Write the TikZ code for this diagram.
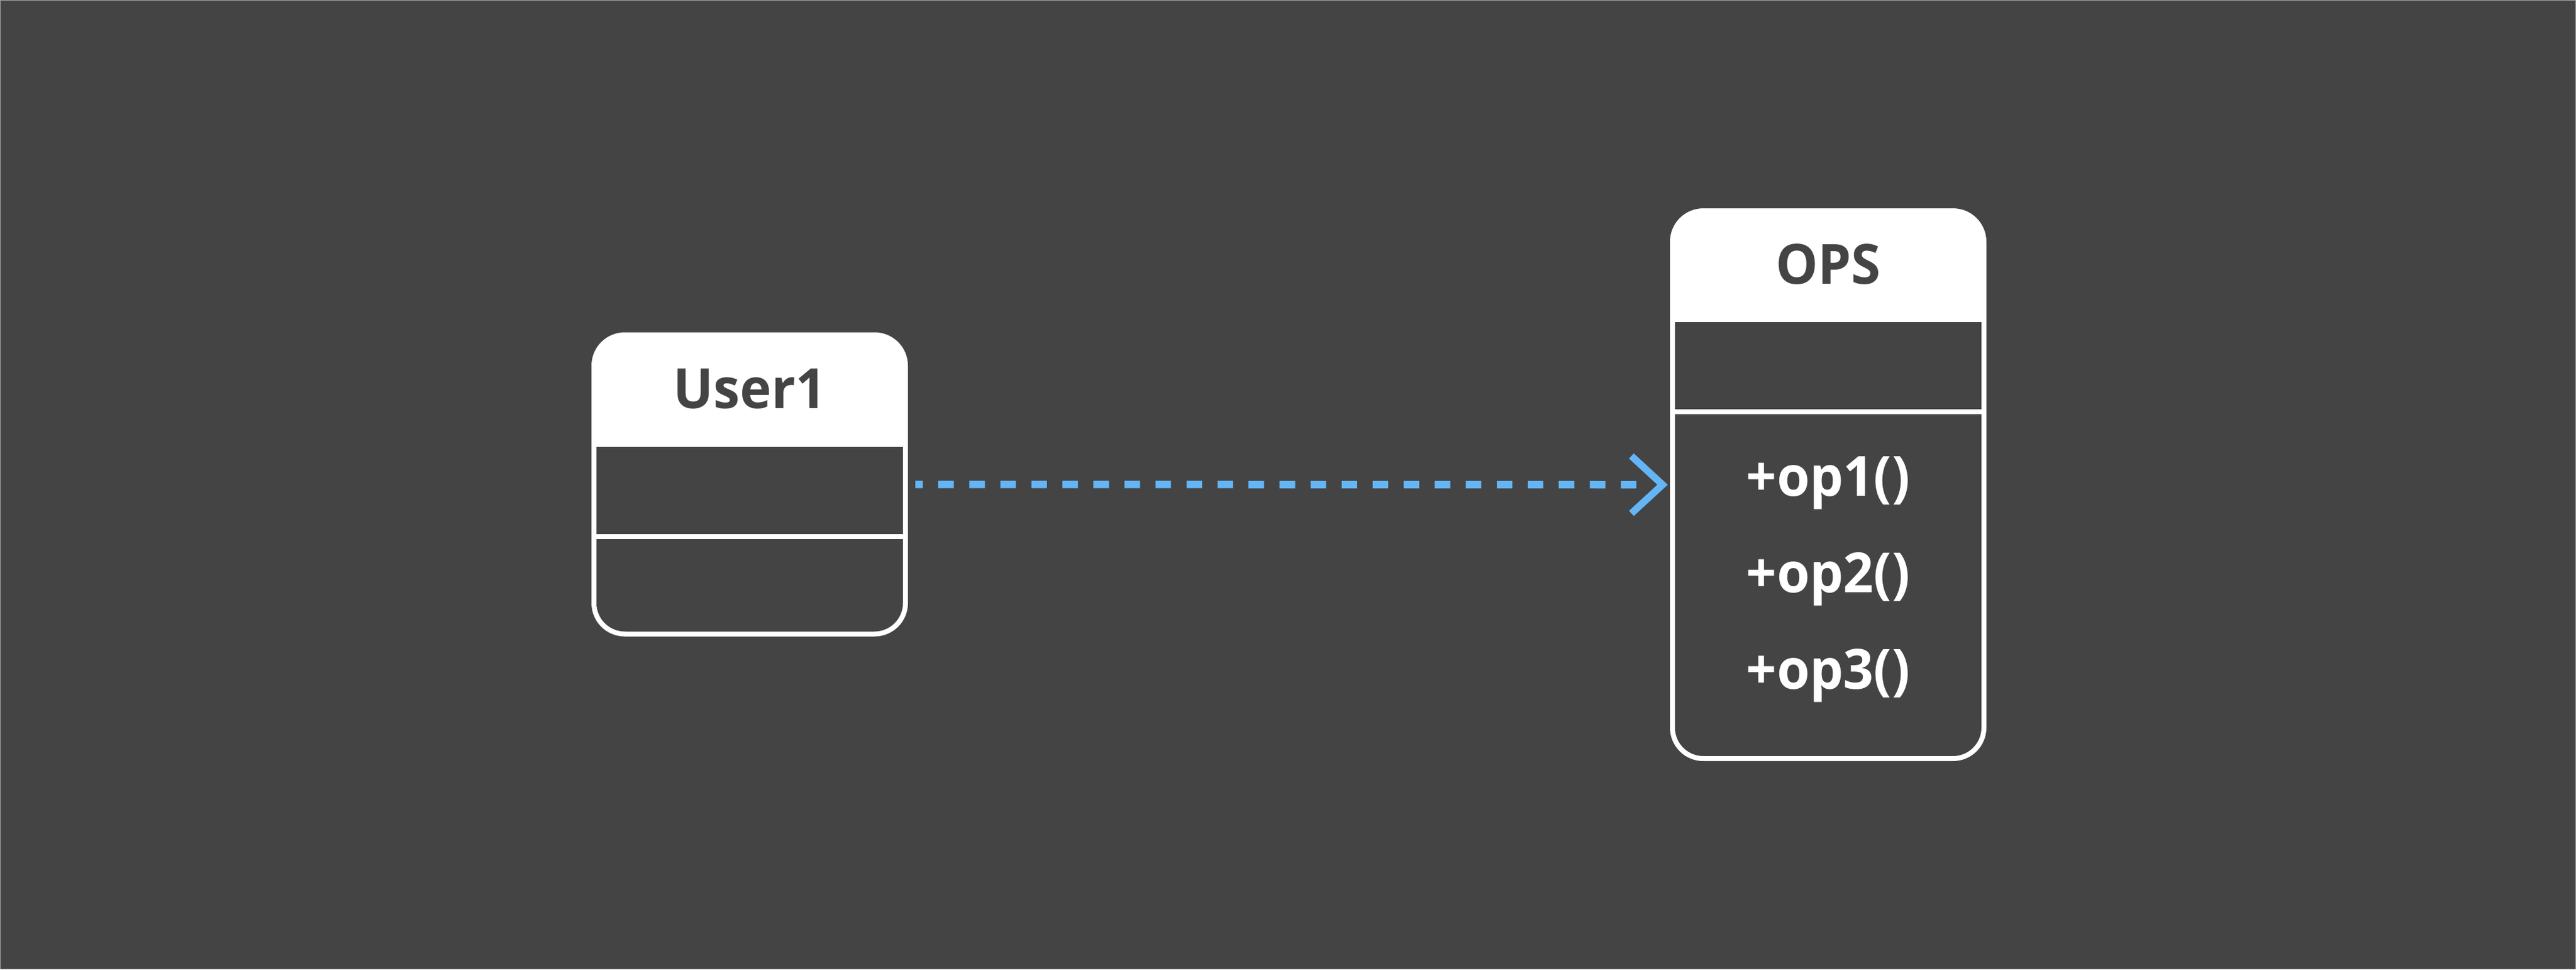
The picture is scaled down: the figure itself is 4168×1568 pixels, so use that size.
\documentclass[tikz,border=0pt]{standalone}
\usepackage{fontspec}
\newfontfamily\lblfont{Open Sans}[FakeStretch=0.96]
\definecolor{bg}{HTML}{444444}
\definecolor{framegray}{HTML}{A0A0A0}
\definecolor{arrowblue}{HTML}{64B5F6}
\begin{document}
\begin{tikzpicture}[x=0.25pt,y=-0.25pt,
  classbox/.style={draw=white, line width=2pt, rounded corners=12.5pt, inner sep=0pt, outer sep=0pt},
  sepline/.style={draw=white, line width=2pt},
  lbl/.style={font=\lblfont\bfseries\fontsize{22.4pt}{26pt}\selectfont, anchor=base, inner sep=0pt},
  titletext/.style={lbl, text=bg},
  membertext/.style={lbl, text=white},
  conn/.style={draw=arrowblue, line width=3pt, dash pattern=on 6.275pt off 6.275pt, dash phase=3.25pt},
  chev/.style={draw=arrowblue, line width=2.85pt, line join=miter, line cap=butt}]
\fill[bg] (0,0) rectangle (4168,1568);
\draw[framegray, line width=0.25pt] (0.5,0.5) rectangle (4167.5,1567.5);
% headers
\begin{scope}
  \clip (0,0) rectangle (4168,722);
  \fill[white, rounded corners=12.5pt] (961,541) rectangle (1465,1025);
\end{scope}
\begin{scope}
  \clip (0,0) rectangle (4168,520);
  \fill[white, rounded corners=12.5pt] (2706,341) rectangle (3210,1227);
\end{scope}
% boxes
\node[classbox, minimum width=126pt, minimum height=121pt] (u1) at (1213,783.5) {};
\node[classbox, minimum width=126pt, minimum height=221.5pt] (ops) at (2958,784) {};
\draw[sepline] (961,868) -- (1465,868);
\draw[sepline] (2706,666) -- (3210,666);
% texts
\node[titletext] (u1name) at (1213,660) {User1};
\node[titletext] (opsname) at (2958,459) {OPS};
\node[membertext] (op1) at (2958,802) {+op1()};
\node[membertext] (op2) at (2958,958) {+op2()};
\node[membertext] (op3) at (2958,1114) {+op3()};
% connector
\draw[conn] ([xshift=4pt]u1.east) -- ([xshift=-14.5pt]ops.west);
\draw[chev] ([shift={(-16.6pt,11.6pt)}]ops.west) -- ([xshift=-4pt]ops.west) -- ([shift={(-16.6pt,-11.6pt)}]ops.west);
\end{tikzpicture}
\end{document}
